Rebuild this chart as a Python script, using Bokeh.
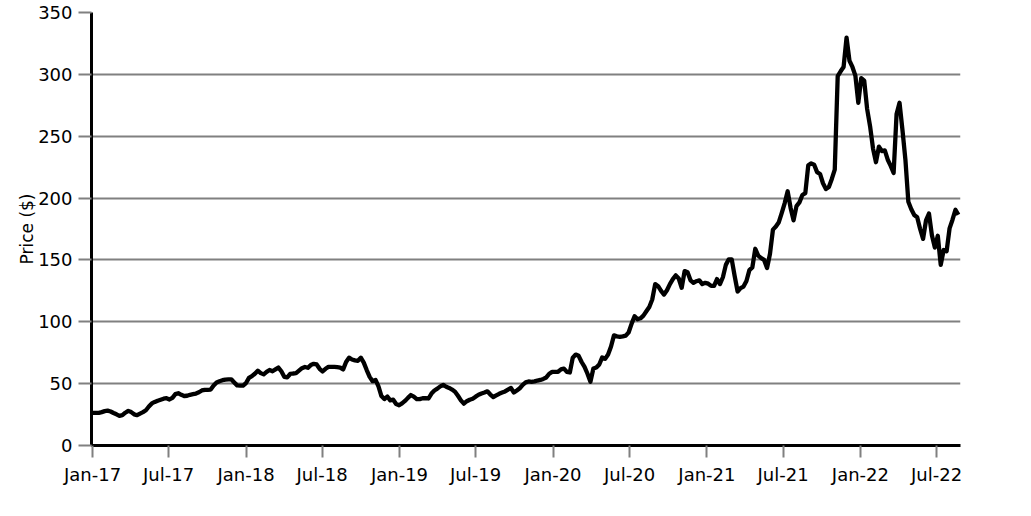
import pandas as pd
from bokeh.plotting import figure
from bokeh.models import Range1d, FixedTicker, DatetimeTickFormatter, ColumnDataSource
from bokeh.embed import file_html
from bokeh.resources import INLINE

# Weekly closing prices, one list per year
price_2017 = [26.3, 26.3, 26.4, 27.0, 27.8, 28.2, 27.5, 26.3, 25.2, 24.0,
              24.5, 26.5, 28.0, 27.0, 25.2, 24.5, 25.8, 27.0, 28.5, 31.5,
              34.0, 35.2, 36.2, 37.0, 37.8, 38.2, 37.2, 38.5, 41.5, 42.3,
              41.0, 40.0, 40.2, 41.0, 41.5, 42.0, 43.0, 44.5, 45.0, 45.0,
              45.2, 48.5, 51.0, 52.0, 52.8, 53.3, 53.5, 53.5, 51.0, 48.6,
              48.4, 48.4]
price_2018 = [50.5, 54.6, 56.0, 58.0, 60.5, 58.5, 57.5, 59.5, 61.0, 60.0,
              61.5, 63.0, 60.0, 55.5, 55.0, 57.8, 58.2, 58.5, 60.5, 62.5,
              63.5, 62.8, 65.0, 66.0, 65.5, 62.0, 59.8, 62.0, 63.5, 63.5,
              63.5, 63.3, 63.0, 61.5, 67.5, 71.0, 69.5, 68.8, 68.5, 71.0,
              67.0, 61.0, 55.5, 52.0, 53.0, 47.8, 40.0, 37.5, 39.6, 36.5,
              37.0, 33.5, 32.5]
price_2019 = [34.0, 36.0, 38.5, 40.8, 39.5, 37.5, 37.5, 38.2, 38.3, 38.0,
              42.0, 44.5, 46.0, 47.8, 49.0, 47.5, 46.5, 45.2, 43.5, 40.2,
              36.5, 33.8, 35.8, 37.0, 37.8, 39.5, 41.0, 42.0, 42.8, 43.8,
              41.2, 39.2, 40.5, 41.8, 42.8, 43.7, 45.2, 46.5, 42.8, 44.5,
              46.3, 49.0, 51.0, 51.8, 51.4, 51.8, 52.5, 53.0, 53.8, 55.0,
              58.0, 59.5]
price_2020 = [59.5, 59.6, 61.5, 62.2, 59.5, 59.0, 71.0, 73.5, 72.5, 67.5,
              63.5, 58.0, 51.5, 62.2, 63.0, 65.5, 71.2, 70.0, 73.5, 80.0,
              89.0, 88.2, 87.8, 88.2, 88.8, 91.5, 98.5, 104.5, 102.0, 102.8,
              105.0, 108.5, 112.0, 118.0, 130.5, 128.8, 125.0, 122.0, 125.5, 130.5,
              134.5, 137.5, 135.0, 127.5, 141.0, 140.0, 133.5, 131.5, 132.8, 133.5,
              130.5, 131.5]
price_2021 = [130.8, 129.0, 129.0, 134.5, 130.5, 136.0, 146.0, 150.5, 150.5, 137.0,
              124.5, 127.2, 128.5, 133.0, 141.8, 144.0, 159.0, 153.5, 151.5, 150.0,
              143.5, 155.0, 174.5, 177.0, 180.5, 188.0, 196.0, 205.5, 192.0, 182.0,
              193.5, 196.5, 202.5, 204.0, 226.5, 228.0, 227.0, 221.0, 219.5, 212.0,
              207.3, 209.0, 215.5, 223.0, 298.6, 302.5, 306.0, 329.7, 311.0, 306.0,
              299.0, 277.0]
price_2022 = [297.0, 295.0, 272.0, 258.0, 240.0, 229.0, 241.5, 238.0, 238.6, 231.0,
              226.0, 220.3, 268.0, 277.0, 255.0, 231.0, 197.0, 191.0, 186.3, 184.5,
              175.0, 167.0, 182.0, 187.5, 170.0, 160.0, 169.5, 146.0, 158.0, 157.0,
              175.5, 182.5, 190.5, 186.5]

x_tick_dates = ["2017-01-01", "2017-07-01", "2018-01-01", "2018-07-01",
                "2019-01-01", "2019-07-01", "2020-01-01", "2020-07-01",
                "2021-01-01", "2021-07-01", "2022-01-01", "2022-07-01"]
y_ticks = [0, 50, 100, 150, 200, 250, 300, 350]

prices = price_2017 + price_2018 + price_2019 + price_2020 + price_2021 + price_2022
dates = pd.date_range("2017-01-02", "2022-08-22", freq="W-MON")
assert len(dates) == len(prices), (len(dates), len(prices))

src = ColumnDataSource(data=dict(date=dates, price=prices))

p = figure(width=1015, height=500, x_axis_type="datetime",
           output_backend="svg", toolbar_location=None,
           x_range=Range1d(pd.Timestamp("2016-12-29 14:00"), pd.Timestamp("2022-08-27")),
           y_range=Range1d(0, 350),
           min_border_left=91, min_border_right=55,
           min_border_top=12, min_border_bottom=55)
p.outline_line_color = None
p.background_fill_color = "white"

p.line(x="date", y="price", source=src, line_color="black",
       line_width=4.3, line_join="round")

font = "DejaVu Sans"
gray = "#808080"

xt = [pd.Timestamp(d).value // 10**6 for d in x_tick_dates]
p.xaxis.ticker = FixedTicker(ticks=xt)
fmt = "%b-%y"
p.xaxis.formatter = DatetimeTickFormatter(
    microseconds=fmt, milliseconds=fmt, seconds=fmt, minsec=fmt, minutes=fmt,
    hourmin=fmt, hours=fmt, days=fmt, months=fmt, years=fmt)
p.yaxis.ticker = FixedTicker(ticks=y_ticks)

for ax in (p.xaxis, p.yaxis):
    ax.axis_line_color = "black"
    ax.axis_line_width = 3
    ax.major_tick_line_color = gray
    ax.major_tick_line_width = 2
    ax.major_tick_in = 0
    ax.minor_tick_line_color = None
    ax.major_label_text_font = font
    ax.major_label_text_font_size = "18px"
    ax.major_label_text_color = "black"

p.xaxis.major_tick_out = 12
p.xaxis.major_label_standoff = 6
p.yaxis.major_tick_out = 13
p.yaxis.major_label_standoff = 6

p.yaxis.axis_label = "Price ($)"
p.yaxis.axis_label_text_font = font
p.yaxis.axis_label_text_font_size = "17px"
p.yaxis.axis_label_text_font_style = "normal"
p.yaxis.axis_label_text_color = "black"
p.yaxis.axis_label_standoff = -2

p.xgrid.visible = False
p.ygrid.grid_line_color = gray
p.ygrid.grid_line_width = 2

open("out.html", "w").write(file_html(p, INLINE))
